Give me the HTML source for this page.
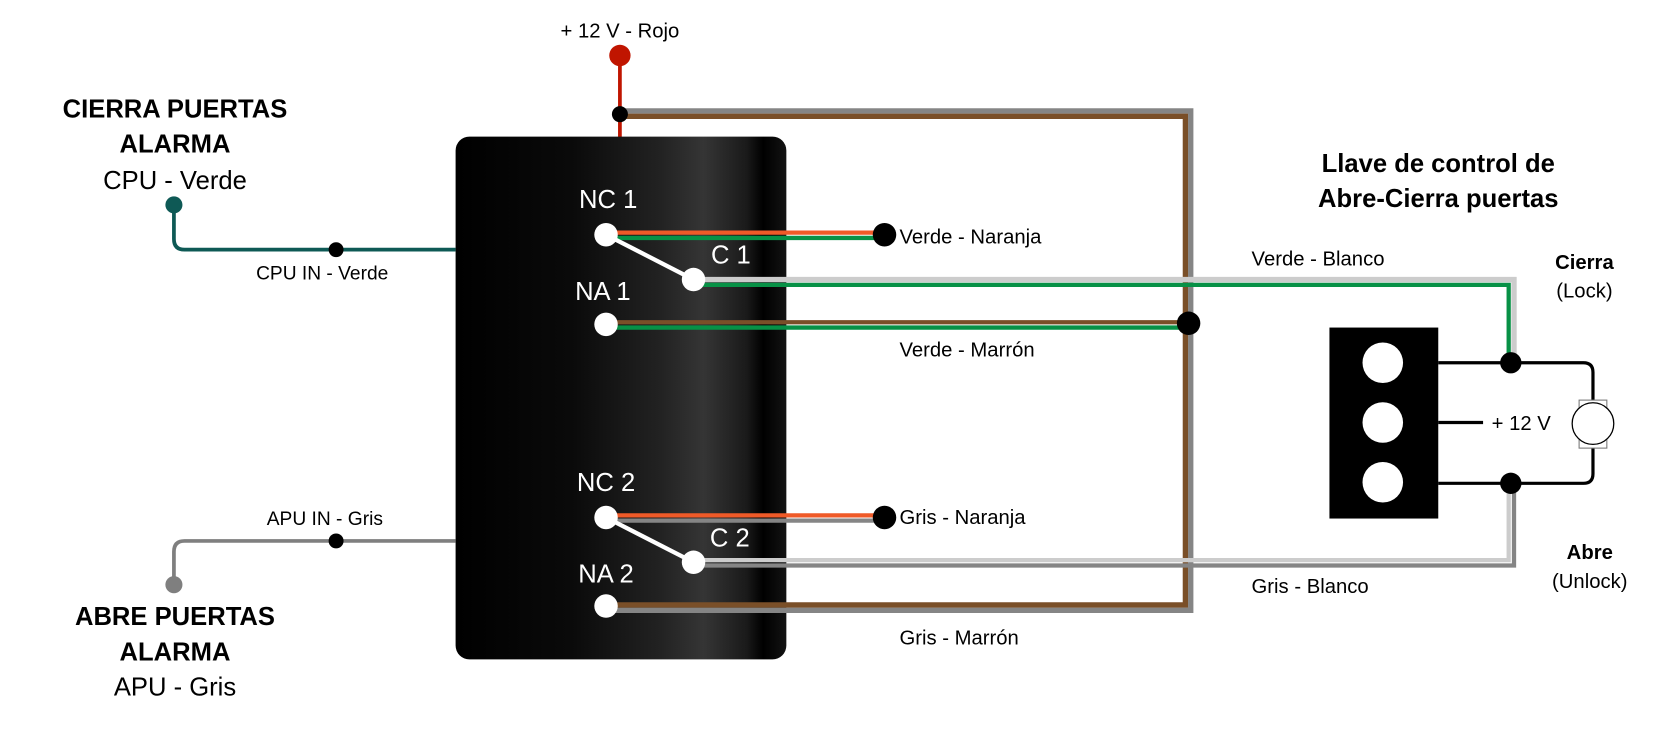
<!DOCTYPE html>
<html><head><meta charset="utf-8"><style>
html,body{margin:0;padding:0;background:#fff;}
svg{display:block;}
text{font-family:"Liberation Sans",sans-serif;}
</style></head><body>
<svg width="1673" height="749" viewBox="0 0 1568 702" xmlns="http://www.w3.org/2000/svg">
<defs>
<linearGradient id="g" x1="0" x2="1" y1="0" y2="0">
<stop offset="0" stop-color="#000"/>
<stop offset="0.35" stop-color="#0a0a0a"/>
<stop offset="0.62" stop-color="#222"/>
<stop offset="0.75" stop-color="#353535"/>
<stop offset="0.88" stop-color="#1a1a1a"/>
<stop offset="0.93" stop-color="#000"/>
<stop offset="1" stop-color="#131313"/>
</linearGradient>
</defs>
<rect width="1568" height="702" fill="#fff"/>

<!-- red wire -->
<line x1="581" y1="52" x2="581" y2="130" stroke="#c01500" stroke-width="3.5"/>
<circle cx="581" cy="52" r="10" fill="#c01500"/>

<!-- relay box -->
<rect x="427" y="128" width="310" height="490" rx="13" fill="url(#g)"/>

<!-- gray/brown loop -->
<path d="M581 104 H1116 V572 H568" fill="none" stroke="#858585" stroke-width="5"/>
<path d="M581 109 H1111 V567 H568" fill="none" stroke="#7a4f28" stroke-width="5"/>

<circle cx="581" cy="107" r="7.5" fill="#000"/>

<!-- CPU -->
<path d="M163 192 V224 Q163 234 173 234 H427" fill="none" stroke="#0e5955" stroke-width="3.5"/>
<circle cx="163" cy="192" r="8" fill="#0e5955"/>
<circle cx="315" cy="234" r="7" fill="#000"/>
<text x="240" y="262" font-size="18">CPU IN - Verde</text>
<text x="164" y="110" font-size="24" font-weight="bold" text-anchor="middle">CIERRA PUERTAS</text>
<text x="164" y="143" font-size="24" font-weight="bold" text-anchor="middle">ALARMA</text>
<text x="164" y="177" font-size="24" text-anchor="middle">CPU - Verde</text>

<!-- APU -->
<path d="M163 548 V517 Q163 507 173 507 H427" fill="none" stroke="#7f7f7f" stroke-width="3.5"/>
<circle cx="163" cy="548" r="8" fill="#7f7f7f"/>
<circle cx="315" cy="507" r="7" fill="#000"/>
<text x="250" y="492" font-size="18">APU IN - Gris</text>
<text x="164" y="586" font-size="24" font-weight="bold" text-anchor="middle">ABRE PUERTAS</text>
<text x="164" y="619" font-size="24" font-weight="bold" text-anchor="middle">ALARMA</text>
<text x="164" y="652" font-size="24" text-anchor="middle">APU - Gris</text>

<!-- NC1 -->
<line x1="568" y1="218" x2="829" y2="218" stroke="#ef5a28" stroke-width="4"/>
<line x1="568" y1="223" x2="829" y2="223" stroke="#079146" stroke-width="4"/>
<circle cx="829" cy="220" r="11" fill="#000"/>
<text x="843" y="228" font-size="19">Verde - Naranja</text>
<!-- C1 -->
<path d="M650 262 H1419 V340" fill="none" stroke="#cccccc" stroke-width="5"/>
<path d="M650 267 H1414 V340" fill="none" stroke="#079146" stroke-width="4"/>
<!-- NA1 -->
<line x1="568" y1="302" x2="1114" y2="302" stroke="#7a4f28" stroke-width="4"/>
<line x1="568" y1="307" x2="1114" y2="307" stroke="#079146" stroke-width="4"/>
<circle cx="1114" cy="303" r="11" fill="#000"/>
<text x="843" y="334" font-size="19">Verde - Marrón</text>

<line x1="568" y1="220" x2="650" y2="262" stroke="#fff" stroke-width="4"/>
<circle cx="568" cy="220" r="11" fill="#fff"/>
<circle cx="650" cy="262" r="11" fill="#fff"/>
<circle cx="568" cy="304" r="11" fill="#fff"/>
<text x="570" y="195" font-size="24" fill="#fff" text-anchor="middle">NC 1</text>
<text x="685" y="247" font-size="24" fill="#fff" text-anchor="middle">C 1</text>
<text x="565" y="281" font-size="24" fill="#fff" text-anchor="middle">NA 1</text>

<!-- NC2 -->
<line x1="568" y1="483" x2="829" y2="483" stroke="#ef5a28" stroke-width="4"/>
<line x1="568" y1="488" x2="829" y2="488" stroke="#858585" stroke-width="4"/>
<circle cx="829" cy="485" r="11" fill="#000"/>
<text x="843" y="491" font-size="19">Gris - Naranja</text>
<!-- C2 -->
<path d="M650 525 H1414 V453" fill="none" stroke="#cccccc" stroke-width="4"/>
<path d="M650 530 H1419 V453" fill="none" stroke="#858585" stroke-width="4"/>
<text x="843" y="604" font-size="19">Gris - Marrón</text>

<line x1="568" y1="485" x2="650" y2="527" stroke="#fff" stroke-width="4"/>
<circle cx="568" cy="485" r="11" fill="#fff"/>
<circle cx="650" cy="527" r="11" fill="#fff"/>
<circle cx="568" cy="568" r="11" fill="#fff"/>
<text x="568" y="460" font-size="24" fill="#fff" text-anchor="middle">NC 2</text>
<text x="684" y="512" font-size="24" fill="#fff" text-anchor="middle">C 2</text>
<text x="568" y="546" font-size="24" fill="#fff" text-anchor="middle">NA 2</text>

<!-- right section -->
<text x="1348" y="161" font-size="24" font-weight="bold" text-anchor="middle">Llave de control de</text>
<text x="1348" y="194" font-size="24" font-weight="bold" text-anchor="middle">Abre-Cierra puertas</text>
<text x="1173" y="249" font-size="19">Verde - Blanco</text>
<text x="1173" y="556" font-size="19">Gris - Blanco</text>
<text x="1485" y="252" font-size="19" font-weight="bold" text-anchor="middle">Cierra</text>
<text x="1485" y="279" font-size="19" text-anchor="middle">(Lock)</text>
<text x="1490" y="524" font-size="19" font-weight="bold" text-anchor="middle">Abre</text>
<text x="1490" y="551" font-size="19" text-anchor="middle">(Unlock)</text>

<rect x="1246" y="307" width="102" height="179" fill="#000"/>
<circle cx="1296" cy="340" r="19" fill="#fff"/>
<circle cx="1296" cy="396" r="19" fill="#fff"/>
<circle cx="1296" cy="452" r="19" fill="#fff"/>
<path d="M1348 340 H1484 Q1493 340 1493 349 V378" fill="none" stroke="#000" stroke-width="3"/>
<path d="M1348 453 H1484 Q1493 453 1493 444 V416" fill="none" stroke="#000" stroke-width="3"/>
<line x1="1348" y1="396" x2="1390" y2="396" stroke="#000" stroke-width="3"/>
<text x="1398" y="403" font-size="19">+ 12 V</text>
<rect x="1480" y="375" width="26" height="45" fill="#fff" stroke="#777" stroke-width="1"/>
<circle cx="1493" cy="397" r="19.5" fill="#fff" stroke="#000" stroke-width="1.2"/>
<circle cx="1416" cy="340" r="10" fill="#000"/>
<circle cx="1416" cy="453" r="10" fill="#000"/>

<text x="581" y="35" font-size="19" text-anchor="middle">+ 12 V - Rojo</text>
</svg>
</body></html>
